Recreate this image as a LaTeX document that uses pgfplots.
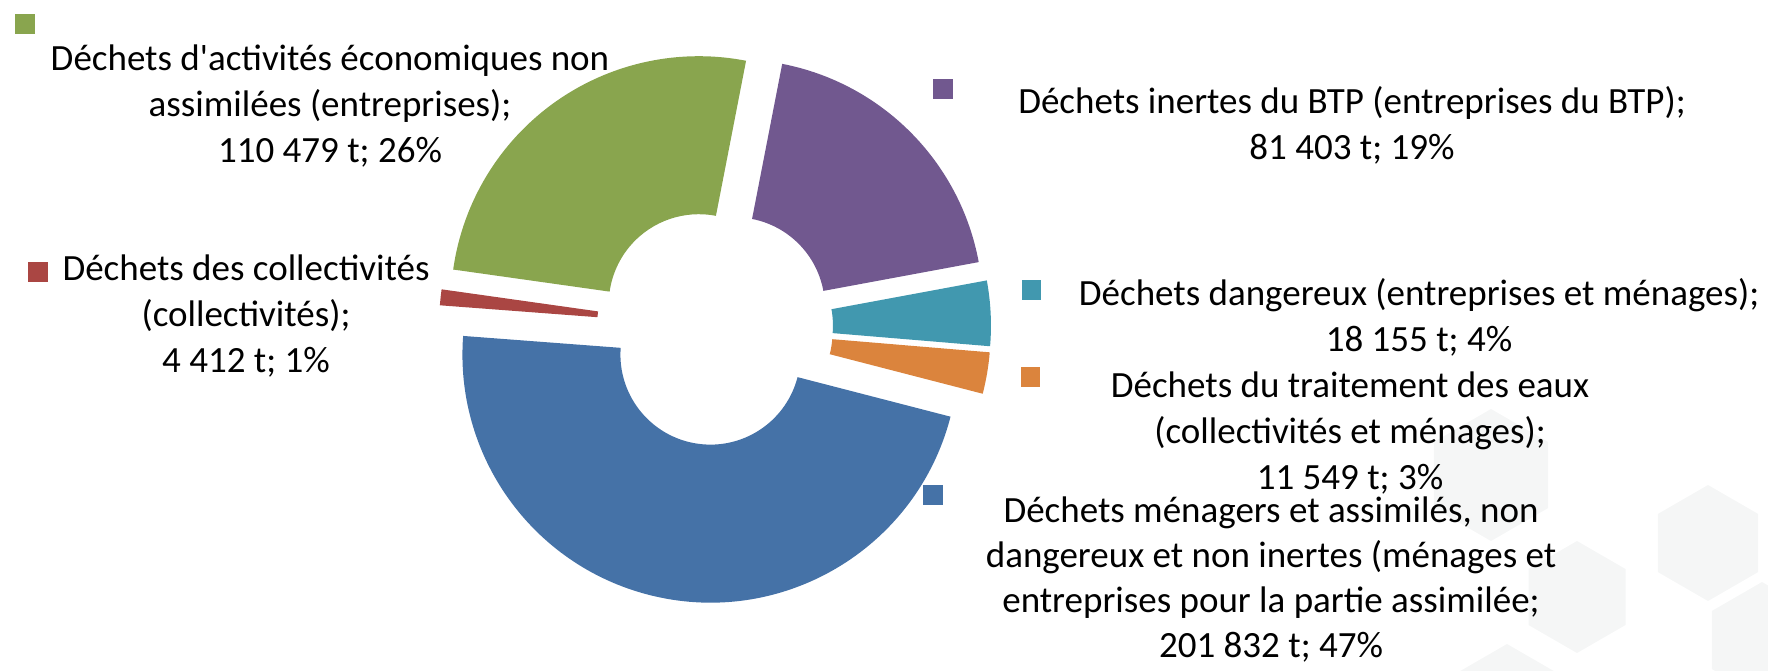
\documentclass[border=0pt]{standalone}
\usepackage{fontspec}
\setmainfont{Carlito}
\usepackage{pgfplots}
\usepackage{pgfplotstable}
\pgfplotsset{compat=1.18}
\usetikzlibrary{calc}

\definecolor{cPurple}{HTML}{71588F}
\definecolor{cTeal}{HTML}{4198AF}
\definecolor{cOrange}{HTML}{DB843D}
\definecolor{cBlue}{HTML}{4572A7}
\definecolor{cRed}{HTML}{AA4643}
\definecolor{cGreen}{HTML}{89A54E}
\definecolor{hexcol}{RGB}{245,246,246}

% tonnages, clockwise from the top
\pgfplotstableread[col sep=comma]{
value,color
81403,cPurple
18155,cTeal
11549,cOrange
201832,cBlue
4412,cRed
110479,cGreen
}\wastedata

\newcommand\lbl{\fontsize{18.5}{23}\selectfont}
\newcommand\lblb{\fontsize{18.5}{22.5}\selectfont}
\newcommand\apos{{\addfontfeatures{Ligatures=TeXOff}'}}
\newcommand\hex[3]{\fill[hexcol] ($(axis cs:#1,#2)+(30:#3)$) -- ($(axis cs:#1,#2)+(90:#3)$) -- ($(axis cs:#1,#2)+(150:#3)$) -- ($(axis cs:#1,#2)+(210:#3)$) -- ($(axis cs:#1,#2)+(270:#3)$) -- ($(axis cs:#1,#2)+(330:#3)$) -- cycle;}

\begin{document}
\begin{tikzpicture}
\begin{axis}[
  width=884pt, height=335pt, scale only axis,
  xmin=0, xmax=1768, ymin=0, ymax=670, y dir=reverse,
  hide axis, clip=false]
\coordinate (BL) at (axis cs:0,670);
\coordinate (TR) at (axis cs:1768,0);
% faint background hexagons
\hex{1491}{475}{33pt}
\hex{1708}{543}{29pt}
\hex{1577}{597}{28pt}
\hex{1762}{640}{29pt}
\hex{1507}{702}{29pt}
% donut slices
\def\startangle{79}
\pgfplotstablegetrowsof{\wastedata}
\pgfmathtruncatemacro\lastrow{\pgfplotsretval-1}
\def\total{0}
\pgfplotsforeachungrouped \i in {0,...,\lastrow}{%
  \pgfplotstablegetelem{\i}{value}\of\wastedata
  \edef\total{\fpeval{\total+\pgfplotsretval}}}
\pgfplotsforeachungrouped \i in {0,...,\lastrow}{%
  \pgfplotstablegetelem{\i}{value}\of\wastedata \edef\val{\pgfplotsretval}%
  \pgfplotstablegetelem{\i}{color}\of\wastedata \edef\col{\pgfplotsretval}%
  \edef\endangle{\fpeval{round(\startangle-\val/\total*360,4)}}%
  \edef\midangle{\fpeval{round((\startangle+\endangle)/2,4)}}%
  \edef\slice{\noexpand\fill[\col] ($(axis cs:715,327)+(\midangle:14pt)+(\startangle:124pt)$) arc[start angle=\startangle,end angle=\endangle,radius=124pt] -- ($(axis cs:715,327)+(\midangle:14pt)+(\endangle:45pt)$) arc[start angle=\endangle,end angle=\startangle,radius=45pt] -- cycle;}%
  \slice
  \let\startangle\endangle
}
% label keys
\fill[cGreen]  (axis cs:15,14)   rectangle (axis cs:35,34);
\fill[cRed]    (axis cs:28,262)  rectangle (axis cs:48,282);
\fill[cPurple] (axis cs:933,79)  rectangle (axis cs:953,99);
\fill[cTeal]   (axis cs:1022,280) rectangle (axis cs:1041,300);
\fill[cOrange] (axis cs:1021,367) rectangle (axis cs:1040,387);
\fill[cBlue]   (axis cs:923,485) rectangle (axis cs:943,505);
% labels
\node[align=center, font=\lbl, inner sep=0pt] at (axis cs:330,106) {Déchets d\apos activités économiques non\\assimilées (entreprises);\\110 479 t; 26\%};
\node[align=center, font=\lbl, inner sep=0pt] at (axis cs:246,316) {Déchets des collectivités\\(collectivités);\\4 412 t; 1\%};
\node[align=center, font=\lbl, inner sep=0pt] at (axis cs:1352,125) {Déchets inertes du BTP (entreprises du BTP);\\81 403 t; 19\%};
\node[align=center, font=\lbl, inner sep=0pt] at (axis cs:1419,317) {Déchets dangereux (entreprises et ménages);\\18 155 t; 4\%};
\node[align=center, font=\lbl, inner sep=0pt] at (axis cs:1350,433) {Déchets du traitement des eaux\\(collectivités et ménages);\\11 549 t; 3\%};
\node[align=center, font=\lblb, inner sep=0pt] at (axis cs:1271,580) {Déchets ménagers et assimilés, non\\dangereux et non inertes (ménages et\\entreprises pour la partie assimilée;\\201 832 t; 47\%};
\end{axis}
\pgfresetboundingbox
\useasboundingbox (BL) rectangle (TR);
\end{tikzpicture}
\end{document}
